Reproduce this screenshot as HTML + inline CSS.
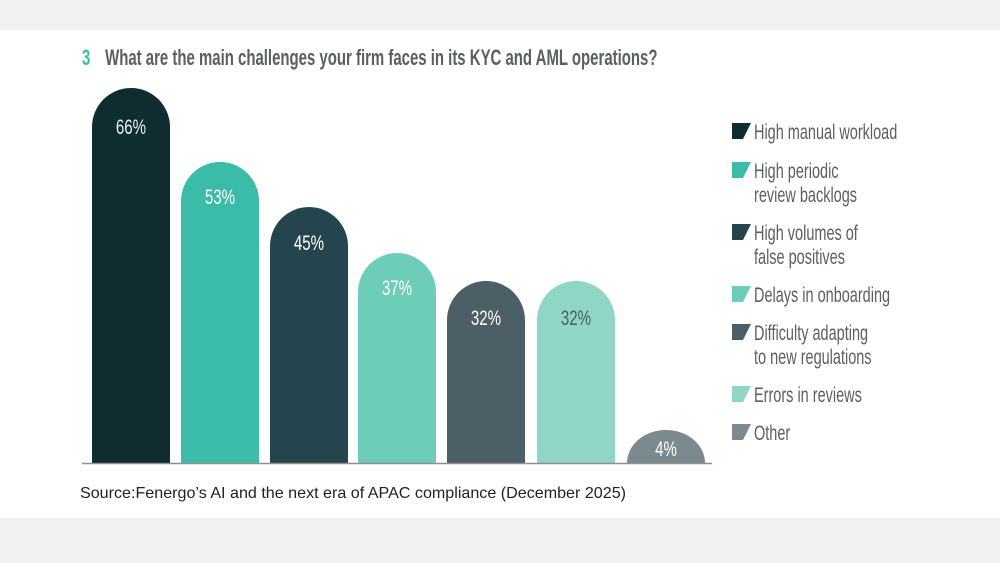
<!DOCTYPE html>
<html><head><meta charset="utf-8"><style>
html,body{margin:0;padding:0;background:#f2f2f2;}
svg{display:block}
</style></head><body>
<svg width="1000" height="563" xmlns="http://www.w3.org/2000/svg">
<rect x="0" y="0" width="1000" height="563" fill="#f2f2f2"/>
<rect x="0" y="30" width="1000" height="488" fill="#ffffff"/>
<g font-family="Liberation Sans Narrow, Liberation Sans, sans-serif">
<g transform="translate(82,65) scale(0.68,1)">
<text x="0" y="0" font-size="22" fill="#3bbca8" font-weight="bold">3</text>
<text x="34" y="0" font-size="22" fill="#5a5f63" font-weight="bold">What are the main challenges your firm faces in its KYC and AML operations?</text>
</g>
</g>
<g>
<path d="M92,463 V127 A39,39 0 0 1 170,127 V463 Z" fill="#0f2d31"/>
<path d="M181,463 V201 A39,39 0 0 1 259,201 V463 Z" fill="#3bbca8"/>
<path d="M270,463 V246 A39,39 0 0 1 348,246 V463 Z" fill="#24454d"/>
<path d="M358,463 V292 A39,39 0 0 1 436,292 V463 Z" fill="#6ecdb9"/>
<path d="M447,463 V320 A39,39 0 0 1 525,320 V463 Z" fill="#4c5f66"/>
<path d="M537,463 V320 A39,39 0 0 1 615,320 V463 Z" fill="#8fd6c6"/>
<path d="M627,463 A39,33 0 0 1 705,463 Z" fill="#7a8a8e"/>
<line x1="82" y1="463.5" x2="712" y2="463.5" stroke="#8a8f92" stroke-width="1.5"/>
</g>
<g font-family="Liberation Sans Narrow, Liberation Sans, sans-serif" font-size="21" text-anchor="middle">
<g transform="translate(131,134) scale(0.72,1)"><text fill="#e8f0f0">66%</text></g>
<g transform="translate(220,204) scale(0.72,1)"><text fill="#ffffff">53%</text></g>
<g transform="translate(309,250) scale(0.72,1)"><text fill="#ffffff">45%</text></g>
<g transform="translate(397,295) scale(0.72,1)"><text fill="#ffffff">37%</text></g>
<g transform="translate(486,325) scale(0.72,1)"><text fill="#ffffff">32%</text></g>
<g transform="translate(576,325) scale(0.72,1)"><text fill="#4c5f66">32%</text></g>
<g transform="translate(666,456) scale(0.72,1)"><text fill="#ffffff">4%</text></g>
</g>
<g>
<polygon points="732,123 751,123 743,139 732,139" fill="#0f2d31"/>
<polygon points="732,162 751,162 743,178 732,178" fill="#3bbca8"/>
<polygon points="732,224 751,224 743,240 732,240" fill="#24454d"/>
<polygon points="732,286 751,286 743,302 732,302" fill="#6ecdb9"/>
<polygon points="732,324 751,324 743,340 732,340" fill="#4c5f66"/>
<polygon points="732,386 751,386 743,402 732,402" fill="#8fd6c6"/>
<polygon points="732,424 751,424 743,440 732,440" fill="#7a8a8e"/>
</g>
<g font-family="Liberation Sans Narrow, Liberation Sans, sans-serif" font-size="21" fill="#5a5f63">
<g transform="translate(754,139) scale(0.69,1)"><text>High manual workload</text></g>
<g transform="translate(754,178) scale(0.69,1)"><text>High periodic</text></g>
<g transform="translate(754,202) scale(0.69,1)"><text>review backlogs</text></g>
<g transform="translate(754,240) scale(0.69,1)"><text>High volumes of</text></g>
<g transform="translate(754,264) scale(0.69,1)"><text>false positives</text></g>
<g transform="translate(754,302) scale(0.69,1)"><text>Delays in onboarding</text></g>
<g transform="translate(754,340) scale(0.69,1)"><text>Difficulty adapting</text></g>
<g transform="translate(754,364) scale(0.69,1)"><text>to new regulations</text></g>
<g transform="translate(754,402) scale(0.69,1)"><text>Errors in reviews</text></g>
<g transform="translate(754,440) scale(0.69,1)"><text>Other</text></g>
</g>
<text x="80" y="498" font-family="Liberation Sans, sans-serif" font-size="16.1" fill="#222">Source:Fenergo’s AI and the next era of APAC compliance (December 2025)</text>
</svg>
</body></html>
